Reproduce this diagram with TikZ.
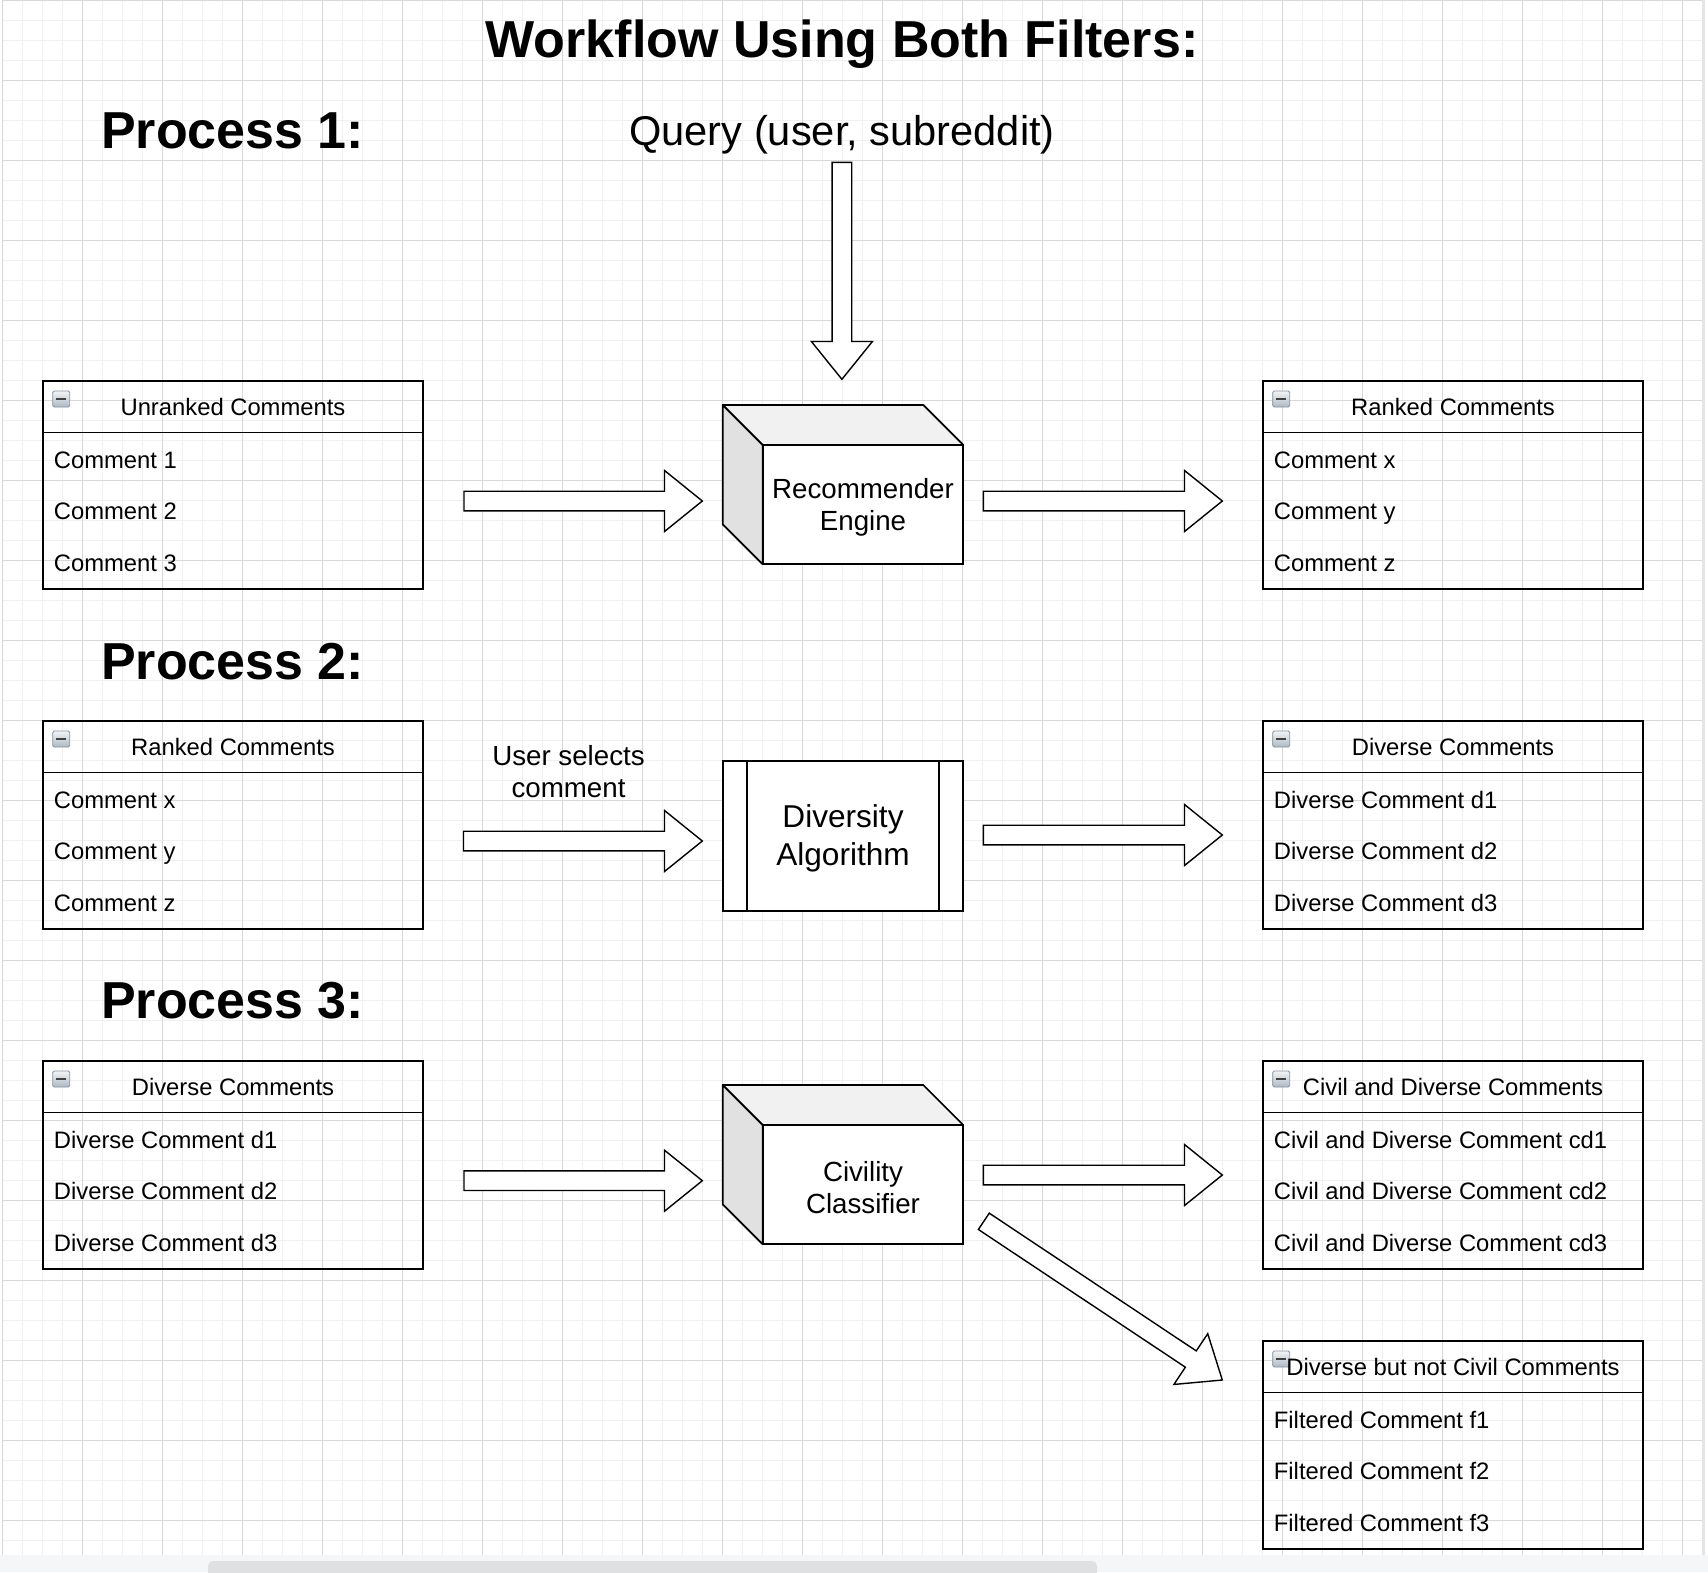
\documentclass[tikz,border=0pt]{standalone}
\usepackage{fontspec}
\setmainfont{Liberation Sans}
\usetikzlibrary{calc}
\definecolor{gridminor}{HTML}{F0F0F0}
\definecolor{gridmajor}{HTML}{D8D8D8}
\definecolor{topface}{HTML}{F1F1F1}
\definecolor{sideface}{HTML}{E1E1E1}
\definecolor{bandgray}{HTML}{F5F6F7}
\definecolor{scrollgray}{HTML}{DFE0E2}
\definecolor{iconedge}{HTML}{8593A0}
\definecolor{icontop}{HTML}{F2F4F6}
\definecolor{iconbot}{HTML}{AEB8C2}
\tikzset{
 boxframe/.style={draw, line width=1.7pt, minimum width=380.6pt, minimum height=207.7pt, inner sep=0pt, outer sep=0pt},
 boxline/.style={line width=1.7pt},
 headtext/.style={inner sep=0pt, anchor=base, font=\fontsize{23.8}{28}\selectfont},
 rowtext/.style={inner sep=0pt, anchor=base west, font=\fontsize{23.8}{28}\selectfont},
 iconbox/.style={draw=iconedge, line width=0.8pt, top color=icontop, bottom color=iconbot, rounded corners=1.5pt, minimum width=17pt, minimum height=16pt, inner sep=0pt, outer sep=0pt, anchor=north west},
 icondash/.style={line width=2.2pt, draw=black!75},
 fatarrowstyle/.style={draw, line width=1.4pt, fill=white, line join=miter},
 procbox/.style={draw, line width=1.7pt, fill=white, inner sep=0pt, outer sep=0pt, align=center},
 proctext/.style={inner sep=0pt, align=center},
 cubeside/.style={draw, line width=1.7pt, line join=round},
 heading/.style={inner sep=0pt, anchor=base west, font=\fontsize{52}{60}\selectfont\bfseries},
 titletext/.style={inner sep=0pt, anchor=base, font=\fontsize{52}{60}\selectfont\bfseries},
 querytext/.style={inner sep=0pt, anchor=base, font=\fontsize{41.6}{48}\selectfont},
 mintor/.style={draw=gridminor, line width=1pt},
 majtor/.style={draw=gridmajor, line width=1pt},
}
\newcommand\listbox[7]{%
  \node[boxframe, anchor=north west] (#1) at (#2,#3) {};
  \draw[boxline] ([yshift=-51.5pt]#1.north west) -- ([yshift=-51.5pt]#1.north east);
  \node[iconbox] (#1-icon) at ([shift={(10pt,-10pt)}]#1.north west) {};
  \draw[icondash] ([xshift=-5pt]#1-icon.center) -- ([xshift=5pt]#1-icon.center);
  \node[headtext] (#1-head) at ([yshift=-34.3pt]#1.north) {#4};
  \node[rowtext] (#1-r1) at ([shift={(11pt,-87pt)}]#1.north west) {#5};
  \node[rowtext] (#1-r2) at ([shift={(11pt,-138.7pt)}]#1.north west) {#6};
  \node[rowtext] (#1-r3) at ([shift={(11pt,-190.4pt)}]#1.north west) {#7};
}
\newcommand\drawcube[4]{%
  \node[procbox, minimum width=200.6pt, minimum height=119.3pt] (#1) at (#2,#3) {};
  \node[proctext, font=\fontsize{27.7}{32}\selectfont] (#1-text) at ([yshift=-3pt]#1.center) {#4};
  \filldraw[cubeside, fill=topface] (#1.north west) -- ++(-40pt,40pt) -- ([shift={(-40pt,40pt)}]#1.north east) -- (#1.north east) -- cycle;
  \filldraw[cubeside, fill=sideface] (#1.north west) -- ++(-40pt,40pt) -- ([shift={(-40pt,40pt)}]#1.south west) -- (#1.south west) -- cycle;
}
\newcommand\fatarrow[2]{%
  \path let \p1=(#1), \p2=(#2) in \pgfextra{%
     \pgfmathsetmacro\faAngT{atan2(\y2-\y1,\x2-\x1)}%
     \pgfmathsetmacro\faLenT{veclen(\x2-\x1,\y2-\y1)}%
     \xdef\faAng{\faAngT}\xdef\faLen{\faLenT}%
     \xdef\faX{\x1}\xdef\faY{\y1}};
  \draw[fatarrowstyle, shift={(\faX,\faY)}, rotate=\faAng]
    (0pt,-9.8pt) -- ({\faLen pt-37.8pt},-9.8pt) -- ({\faLen pt-37.8pt},-30.5pt)
    -- (\faLen pt,0pt) -- ({\faLen pt-37.8pt},30.5pt) -- ({\faLen pt-37.8pt},9.8pt)
    -- (0pt,9.8pt) -- cycle;
}
\begin{document}
\begin{tikzpicture}[x=1pt, y=-1pt]
\useasboundingbox (0,0) rectangle (1708,1572);
\fill[white] (0,0) rectangle (1708,1572);
% grid
\foreach \i in {0,...,85} \draw[mintor] (2.3+20*\i,0) -- (2.3+20*\i,1555);
\foreach \j in {0,...,77} \draw[mintor] (2.3,20*\j) -- (1702.3,20*\j);
\foreach \i in {0,...,21} \draw[majtor] (2.3+80*\i,0) -- (2.3+80*\i,1555);
\foreach \j in {0,...,19} \draw[majtor] (2.3,80*\j) -- (1702.3,80*\j);
\fill[gridmajor!70] (1702,0) rectangle (1705,1555);
\fill[bandgray] (0,1555) rectangle (1708,1572);
\fill[scrollgray, rounded corners=5pt] (208,1561) rectangle (1097,1580);

% titles
\node[titletext] (title) at (842,57) {Workflow Using Both Filters:};
\node[heading] (p1) at (101,148.3) {Process 1:};
\node[heading] (p2) at (101,679.3) {Process 2:};
\node[heading] (p3) at (101,1018.3) {Process 3:};
\node[querytext] (query) at (842,145) {Query (user, subreddit)};

% list boxes
\listbox{unranked}{42.7}{381}{Unranked Comments}{Comment 1}{Comment 2}{Comment 3}
\listbox{ranked}{1262.7}{381}{Ranked Comments}{Comment x}{Comment y}{Comment z}
\listbox{rankedin}{42.7}{721}{Ranked Comments}{Comment x}{Comment y}{Comment z}
\listbox{diverse}{1262.7}{721}{Diverse Comments}{Diverse Comment d1}{Diverse Comment d2}{Diverse Comment d3}
\listbox{diversein}{42.7}{1061}{Diverse Comments}{Diverse Comment d1}{Diverse Comment d2}{Diverse Comment d3}
\listbox{civil}{1262.7}{1061}{Civil and Diverse Comments}{Civil and Diverse Comment cd1}{Civil and Diverse Comment cd2}{Civil and Diverse Comment cd3}
\listbox{notcivil}{1262.7}{1341}{Diverse but not Civil Comments}{Filtered Comment f1}{Filtered Comment f2}{Filtered Comment f3}

% processing shapes
\drawcube{rec}{863}{504.65}{Recommender\\Engine}
\drawcube{civ}{863}{1184.65}{Civility\\Classifier}
\node[procbox, minimum width=240.6pt, minimum height=149.7pt] (div) at (843,835.85) {};
\node[proctext, font=\fontsize{31.6}{37.7}\selectfont] (div-text) at ([yshift=-2.5pt]div.center) {Diversity\\Algorithm};
\draw[boxline] ([xshift=24.3pt]div.north west) -- ([xshift=24.3pt]div.south west);
\draw[boxline] ([xshift=-24.3pt]div.north east) -- ([xshift=-24.3pt]div.south east);

\node[proctext, font=\fontsize{27.7}{31.6}\selectfont] (usel) at (568.5,771.8) {User selects\\comment};

% arrow end points
\coordinate (qs) at (841.9,162.3);   \coordinate (qe) at (841.9,379.3);
\coordinate (a1s) at (464,501);      \coordinate (a1e) at (702.3,501);
\coordinate (a2s) at (983.3,501);    \coordinate (a2e) at (1222.3,501);
\coordinate (b1s) at (463.5,841);    \coordinate (b1e) at (702.3,841);
\coordinate (b2s) at (983.3,835);    \coordinate (b2e) at (1222.3,835);
\coordinate (c1s) at (464,1180.7);   \coordinate (c1e) at (702.3,1180.7);
\coordinate (c2s) at (983.3,1175);   \coordinate (c2e) at (1222.3,1175);
\coordinate (c3s) at (983.8,1221.3); \coordinate (c3e) at (1222.3,1380);
\fatarrow{qs}{qe}
\fatarrow{a1s}{a1e}
\fatarrow{a2s}{a2e}
\fatarrow{b1s}{b1e}
\fatarrow{b2s}{b2e}
\fatarrow{c1s}{c1e}
\fatarrow{c2s}{c2e}
\fatarrow{c3s}{c3e}
\end{tikzpicture}
\end{document}
